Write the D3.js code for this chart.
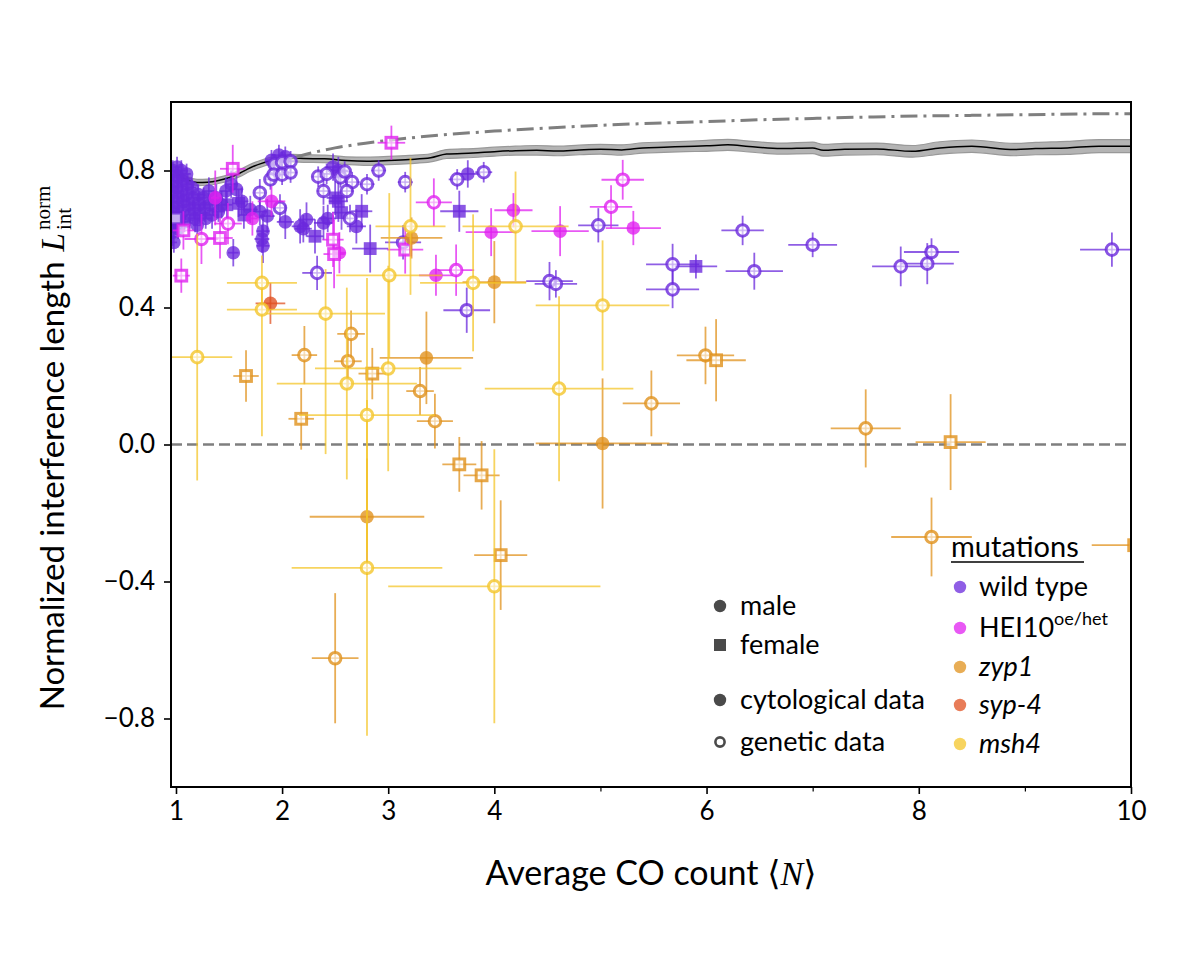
<!DOCTYPE html>
<html><head><meta charset="utf-8">
<script src="https://cdn.jsdelivr.net/npm/d3@7"></script>
<style>body{margin:0;background:#fff} svg{display:block}</style>
</head><body><svg id="c" width="1200" height="960"></svg>
<script>
// ---------- DATA ----------
// each point: [x, y, xerr, yerr]  (yerr may be [low, high])
const xTicksMajor = [1, 2, 3, 4, 6, 8, 10];
const xTicksMinor = [5, 7, 9];
const yTicks = [-0.8, -0.4, 0.0, 0.4, 0.8];

const wtCytoMale = [
[0.97,0.80,0.03,0.03],[0.98,0.77,0.03,0.03],[0.97,0.74,0.03,0.04],[0.98,0.71,0.03,0.03],[0.97,0.68,0.03,0.04],[0.98,0.65,0.03,0.03],[0.97,0.62,0.03,0.04],[0.98,0.59,0.03,0.03],
[1.01,0.81,0.03,0.03],[1.02,0.78,0.04,0.03],[1.01,0.75,0.03,0.03],[1.02,0.72,0.04,0.04],[1.01,0.69,0.03,0.03],[1.03,0.66,0.04,0.04],[1.02,0.63,0.03,0.03],
[1.05,0.80,0.04,0.03],[1.06,0.77,0.04,0.03],[1.05,0.74,0.03,0.04],[1.07,0.71,0.04,0.03],[1.06,0.68,0.04,0.04],[1.08,0.65,0.04,0.03],
[1.10,0.79,0.04,0.03],[1.11,0.76,0.04,0.03],[1.10,0.73,0.04,0.04],[1.12,0.70,0.05,0.03],[1.13,0.67,0.04,0.04],
[1.15,0.75,0.04,0.03],[1.16,0.72,0.05,0.04],[1.17,0.69,0.04,0.03],[1.18,0.66,0.05,0.04],
[1.21,0.73,0.05,0.03],[1.22,0.70,0.05,0.04],[1.23,0.67,0.05,0.03],[1.20,0.64,0.04,0.04],
[1.26,0.72,0.05,0.03],[1.27,0.69,0.05,0.04],[1.28,0.66,0.05,0.03],
[1.31,0.74,0.05,0.04],[1.32,0.70,0.05,0.03],[1.34,0.67,0.05,0.04],
[1.38,0.72,0.06,0.04],[1.40,0.68,0.06,0.03],[1.43,0.70,0.06,0.04],
[1.47,0.74,0.06,0.04],[1.52,0.76,0.06,0.04],[1.57,0.745,0.06,0.04],[1.62,0.71,0.06,0.04],[1.54,0.56,0.05,0.04],
[1.70,0.686,0.07,0.04],[1.79,0.68,0.07,0.04],[1.86,0.667,0.07,0.05],[1.82,0.623,0.06,0.05],[1.81,0.60,0.07,0.04],[1.82,0.58,0.06,0.05],
[1.90,0.83,0.06,0.03],[1.97,0.845,0.07,0.03],[2.03,0.84,0.07,0.03],
[2.03,0.65,0.08,0.05],[2.17,0.637,0.08,0.05],[2.23,0.657,0.08,0.05],[2.20,0.63,0.08,0.04],[2.39,0.647,0.09,0.05],[2.43,0.66,0.08,0.04],
[2.48,0.81,0.08,0.04],[2.53,0.80,0.09,0.04],[2.70,0.637,0.09,0.05],[3.75,0.79,0.12,0.04]
];
const wtCytoFemale = [
[1.48,0.70,0.05,0.04],[1.59,0.704,0.06,0.04],[1.64,0.67,0.05,0.04],[2.31,0.608,0.08,0.05],[2.50,0.72,0.08,0.05],
[2.53,0.71,0.09,0.06],[2.56,0.677,0.09,0.05],[2.75,0.681,0.10,0.05],[2.83,0.572,0.17,0.07],[3.67,0.681,0.18,0.06],[5.90,0.52,0.20,0.035]
];
const wtGenMale = [
[1.79,0.735,0.05,0.04],[1.89,0.774,0.05,0.03],[1.93,0.818,0.05,0.03],[2.00,0.824,0.05,0.03],[2.08,0.827,0.06,0.03],
[1.92,0.788,0.05,0.03],[2.00,0.788,0.05,0.03],[2.08,0.794,0.06,0.03],[1.98,0.691,0.06,0.04],[2.34,0.782,0.06,0.03],
[2.42,0.790,0.06,0.03],[2.39,0.740,0.06,0.04],[2.55,0.780,0.06,0.03],[2.59,0.797,0.06,0.03],[2.66,0.766,0.07,0.03],
[2.61,0.740,0.06,0.03],[2.80,0.760,0.07,0.03],[2.64,0.660,0.07,0.04],[2.91,0.800,0.07,0.03],[3.16,0.766,0.07,0.03],
[3.65,0.774,0.08,0.03],[3.90,0.795,0.08,0.03],[2.33,0.501,0.14,0.05],[3.14,0.590,0.17,0.05],[3.74,0.392,0.22,0.066],
[4.52,0.477,0.22,0.056],[4.58,0.469,0.20,0.04],[4.98,0.640,0.19,0.05],[5.68,0.526,0.25,0.06],[5.68,0.453,0.25,0.055],
[6.34,0.625,0.20,0.043],[6.45,0.506,0.27,0.054],[7.00,0.583,0.23,0.036],[7.83,0.520,0.27,0.058],[8.08,0.528,0.25,0.06],
[8.12,0.562,0.26,0.04],[9.82,0.569,0.30,0.05]
];
const wtGenFemale = [[1.00,0.66,0.03,0.03]];

const hei10CytoMale = [
[1.37,0.72,0.04,0.08],[1.72,0.66,0.05,0.05],[1.90,0.71,0.13,0.044],[2.54,0.56,0.06,0.06],[3.45,0.494,0.16,0.06],
[3.97,0.62,0.24,0.07],[4.18,0.684,0.18,0.05],[4.62,0.623,0.27,0.073],[5.31,0.632,0.26,0.05]
];
const hei10GenMale = [
[1.24,0.60,0.16,0.073],[1.49,0.645,0.13,0.06],[3.43,0.707,0.17,0.07],[3.64,0.509,0.17,0.075],[5.10,0.694,0.20,0.063],[5.21,0.773,0.20,0.058]
];
const hei10GenFemale = [
[1.05,0.493,0.08,0.05],[1.07,0.625,0.10,0.056],[1.415,0.603,0.12,0.06],[1.535,0.805,0.12,0.07],
[2.48,0.598,0.10,0.08],[2.49,0.556,0.10,0.10],[3.03,0.881,0.13,0.05],[3.16,0.569,0.17,0.07]
];

const zyp1CytoMale = [
[2.80,-0.211,0.54,0.17],[3.22,0.603,0.29,0.06],[3.36,0.253,0.44,0.135],[4.00,0.474,0.30,0.12],[5.02,0.003,0.63,0.19]
];
const zyp1GenMale = [
[2.21,0.261,0.12,0.085],[2.50,-0.624,0.22,0.19],[2.62,0.243,0.13,0.08],[2.65,0.323,0.13,0.068],[3.30,0.156,0.13,0.07],
[3.44,0.068,0.17,0.08],[5.48,0.120,0.27,0.096],[5.99,0.260,0.27,0.084],[7.50,0.047,0.33,0.114],[8.12,-0.270,0.38,0.115]
];
const zyp1GenFemale = [
[1.66,0.200,0.12,0.075],[2.18,0.075,0.12,0.09],[2.85,0.207,0.13,0.075],[3.67,-0.058,0.16,0.08],[3.88,-0.090,0.17,0.10],
[4.06,-0.323,0.25,0.16],[6.09,0.246,0.28,0.12],[8.30,0.007,0.33,0.14],[10.03,-0.294,0.40,0.05]
];

const syp4CytoMale = [[1.89,0.412,0.14,0.06]];

const msh4GenMale = [
[1.20,0.255,0.33,0.36],[1.81,0.472,0.33,0.08],[1.81,0.394,0.33,[0.37,0.09]],[2.41,0.382,0.56,[0.41,0.13]],
[2.61,0.178,0.66,0.28],[2.80,0.086,0.64,0.40],[2.80,-0.360,0.71,0.49],[3.00,0.222,0.69,0.30],[3.01,0.494,0.50,0.24],
[3.21,0.637,0.33,0.20],[3.80,0.472,0.50,0.20],[4.00,-0.414,1.00,0.40],[4.20,0.637,0.50,0.16],[4.61,0.163,0.70,0.27],[5.02,0.406,0.63,0.19]
];

// model curves
const modelX = [1.0,1.05,1.1,1.15,1.2,1.3,1.4,1.5,1.6,1.7,1.8,1.9,2.0,2.1,2.2,2.4,2.6,2.8,3.0,3.2,3.4,3.55,3.8,4.0,4.2,4.4,4.6,4.8,5.0,5.2,5.4,5.6,5.8,6.0,6.2,6.4,6.7,7.0,7.1,7.3,7.6,7.94,8.2,8.5,8.9,9.1,9.4,9.7,10.0];
const modelY = [0.794,0.782,0.773,0.768,0.765,0.766,0.771,0.779,0.792,0.808,0.820,0.829,0.834,0.836,0.835,0.834,0.829,0.827,0.829,0.832,0.837,0.848,0.851,0.855,0.858,0.859,0.857,0.860,0.862,0.860,0.866,0.868,0.870,0.872,0.875,0.870,0.864,0.866,0.859,0.862,0.863,0.856,0.866,0.871,0.861,0.864,0.866,0.871,0.871];
const modelBand = [0.009,0.009,0.009,0.009,0.009,0.009,0.009,0.009,0.010,0.010,0.010,0.010,0.010,0.011,0.011,0.011,0.011,0.012,0.012,0.012,0.012,0.013,0.013,0.013,0.013,0.014,0.014,0.014,0.014,0.015,0.015,0.015,0.015,0.016,0.016,0.016,0.016,0.017,0.017,0.017,0.017,0.017,0.018,0.018,0.018,0.018,0.019,0.019,0.019];
const limitX = [2.12,2.3,2.5,2.7,3.0,3.3,3.6,4.0,4.5,5.0,5.5,6.0,6.5,7.0,7.5,8.0,8.5,9.0,9.5,10.0];
const limitY = [0.838,0.853,0.866,0.876,0.888,0.898,0.906,0.915,0.924,0.932,0.938,0.943,0.948,0.952,0.956,0.959,0.961,0.963,0.965,0.966];

const mutationNames = ["wild type","HEI10","zyp1","syp-4","msh4"];
const mutationColors = ["#6a28dc","#e020f0","#e0911c","#e05020","#f4c62a"];

// ---------- DRAW ----------
const M = {l:171, r:1131, t:102, b:787};
const svg = d3.select('#c');
const sans = 'Lato, "DejaVu Sans", sans-serif';
const serif = '"Liberation Serif","DejaVu Serif",serif';

const x = d3.scaleLinear().domain([0.953, 10.0]).range([M.l, M.r]);
const y = d3.scaleLinear().domain([-1, 1]).range([M.b, M.t]);

svg.append('defs').append('clipPath').attr('id','clip')
  .append('rect').attr('x',M.l).attr('y',M.t).attr('width',M.r-M.l).attr('height',M.b-M.t);

const plot = svg.append('g').attr('clip-path','url(#clip)');

// zero line
plot.append('line').attr('x1',M.l).attr('x2',M.r).attr('y1',y(0)).attr('y2',y(0))
  .attr('stroke','#7f7f7f').attr('stroke-width',2.5).attr('stroke-dasharray','11,5');

// band and model line
const idx = d3.range(modelX.length);
plot.append('path').datum(idx)
  .attr('d', d3.area().x(i=>x(modelX[i])).y0(i=>y(modelY[i]-modelBand[i])).y1(i=>y(modelY[i]+modelBand[i])).curve(d3.curveMonotoneX))
  .attr('fill','#b4b4b4').attr('stroke','#999').attr('stroke-width',1.2);
plot.append('path').datum(idx)
  .attr('d', d3.line().x(i=>x(modelX[i])).y(i=>y(modelY[i])).curve(d3.curveMonotoneX))
  .attr('fill','none').attr('stroke','#000').attr('stroke-width',1.5);
plot.append('path').datum(d3.range(limitX.length))
  .attr('d', d3.line().x(i=>x(limitX[i])).y(i=>y(limitY[i])).curve(d3.curveMonotoneX))
  .attr('fill','none').attr('stroke','#7f7f7f').attr('stroke-width',3).attr('stroke-dasharray','17,6,3,6');

function errs(d){ return Array.isArray(d[3]) ? d[3] : [d[3], d[3]]; }

function drawGroup(data, color, shape, open){
  const g = plot.append('g');
  g.selectAll('line.h').data(data).join('line')
    .attr('x1',d=>x(d[0]-d[2])).attr('x2',d=>x(d[0]+d[2]))
    .attr('y1',d=>y(d[1])).attr('y2',d=>y(d[1]))
    .attr('stroke',color).attr('stroke-width',1.8).attr('stroke-opacity',0.75);
  g.selectAll('line.v').data(data).join('line')
    .attr('x1',d=>x(d[0])).attr('x2',d=>x(d[0]))
    .attr('y1',d=>y(d[1]-errs(d)[0])).attr('y2',d=>y(d[1]+errs(d)[1]))
    .attr('stroke',color).attr('stroke-width',1.8).attr('stroke-opacity',0.75);
  let m;
  if (shape === 'circle') {
    m = g.selectAll('circle').data(data).join('circle')
      .attr('cx',d=>x(d[0])).attr('cy',d=>y(d[1])).attr('r', open ? 5.8 : 6.8);
  } else {
    const s = open ? 10.8 : 12.8;
    m = g.selectAll('rect').data(data).join('rect')
      .attr('x',d=>x(d[0])-s/2).attr('y',d=>y(d[1])-s/2).attr('width',s).attr('height',s);
  }
  if (open) {
    m.attr('fill','#fff').attr('fill-opacity',0.6).attr('stroke',color).attr('stroke-width',3).attr('stroke-opacity',0.8);
  } else {
    m.attr('fill',color).attr('fill-opacity',0.78);
  }
}

const C = mutationColors;
drawGroup(wtCytoMale, C[0], 'circle', false);
drawGroup(wtCytoFemale, C[0], 'square', false);
drawGroup(wtGenMale, C[0], 'circle', true);
drawGroup(wtGenFemale, C[0], 'square', true);
drawGroup(hei10CytoMale, C[1], 'circle', false);
drawGroup(hei10GenMale, C[1], 'circle', true);
drawGroup(hei10GenFemale, C[1], 'square', true);
drawGroup(zyp1CytoMale, C[2], 'circle', false);
drawGroup(zyp1GenMale, C[2], 'circle', true);
drawGroup(zyp1GenFemale, C[2], 'square', true);
drawGroup(syp4CytoMale, C[3], 'circle', false);
drawGroup(msh4GenMale, C[4], 'circle', true);

// axes
const xa = svg.append('g').attr('transform',`translate(0,${M.b})`)
  .call(d3.axisBottom(x).tickValues(xTicksMajor).tickSize(7).tickPadding(8).tickFormat(d3.format('d')));
const xm = svg.append('g').attr('transform',`translate(0,${M.b})`)
  .call(d3.axisBottom(x).tickValues(xTicksMinor).tickSize(4.5).tickFormat(''));
const ya = svg.append('g').attr('transform',`translate(${M.l},0)`)
  .call(d3.axisLeft(y).tickValues(yTicks).tickSize(7).tickPadding(9).tickFormat(d3.format('.1f')));
[xa,xm,ya].forEach(a=>{
  a.select('.domain').remove();
  a.selectAll('line').attr('stroke','#000').attr('stroke-width',1.6);
  a.selectAll('text').attr('font-family',sans).attr('font-size',26).attr('fill','#000');
});
xm.selectAll('line').attr('stroke-width',1.2);

svg.append('rect').attr('x',M.l).attr('y',M.t).attr('width',M.r-M.l).attr('height',M.b-M.t)
  .attr('fill','none').attr('stroke','#000').attr('stroke-width',2);

// x label
const xl = svg.append('text').attr('x',651).attr('y',885).attr('text-anchor','middle')
  .attr('font-family',sans).attr('font-size',34).attr('fill','#000');
xl.append('tspan').text('Average CO count ');
xl.append('tspan').attr('font-family',serif).text('\u27E8');
xl.append('tspan').attr('font-family',serif).attr('font-style','italic').text('N');
xl.append('tspan').attr('font-family',serif).text('\u27E9');

// y label
const yg = svg.append('g').attr('transform',`translate(64,448) rotate(-90)`);
const yt = yg.append('text').attr('font-family',sans).attr('font-size',33).attr('fill','#000').text('Normalized interference length');
const yL = yg.append('text').attr('font-family',serif).attr('font-style','italic').attr('font-size',33).attr('fill','#000').text('L');
const ySup = yg.append('text').attr('font-family',serif).attr('font-size',21).attr('fill','#000').text('norm');
const ySub = yg.append('text').attr('font-family',serif).attr('font-size',21).attr('fill','#000').text('int');
const gap = 10;
const w1 = yt.node().getComputedTextLength();
const w2 = yL.node().getComputedTextLength();
const w3 = Math.max(ySup.node().getComputedTextLength(), ySub.node().getComputedTextLength());
const tot = w1 + gap + w2 + 3 + w3;
const x0 = -tot/2;
yt.attr('x',x0).attr('y',0);
yL.attr('x',x0+w1+gap).attr('y',0);
ySup.attr('x',x0+w1+gap+w2+3).attr('y',-14);
ySub.attr('x',x0+w1+gap+w2+3).attr('y',7);

// legend column 1
const lg = svg.append('g').attr('font-family',sans).attr('font-size',27).attr('fill','#000');
const gray = '#4a4a4a';
const leg1 = [
  {label:'male', shape:'circle', open:false, y:606},
  {label:'female', shape:'square', open:false, y:645},
  {label:'cytological data', shape:'circle', open:false, y:700},
  {label:'genetic data', shape:'circle', open:true, y:742}
];
leg1.forEach(d=>{
  if (d.shape==='circle') {
    const c = lg.append('circle').attr('cx',720).attr('cy',d.y).attr('r',d.open?4.6:6.2);
    if (d.open) c.attr('fill','#fff').attr('stroke',gray).attr('stroke-width',2.6); else c.attr('fill',gray);
  } else {
    lg.append('rect').attr('x',714).attr('y',d.y-6).attr('width',12).attr('height',12).attr('fill',gray);
  }
  lg.append('text').attr('x',740).attr('y',d.y+9).text(d.label);
});

// legend column 2
lg.append('text').attr('x',951).attr('y',557).attr('font-size',29).text('mutations');
lg.append('line').attr('x1',951).attr('x2',1084).attr('y1',562).attr('y2',562).attr('stroke','#000').attr('stroke-width',1.3);
const leg2y = [587, 628, 667, 705, 744];
mutationNames.forEach((n,i)=>{
  lg.append('circle').attr('cx',960).attr('cy',leg2y[i]).attr('r',6.2).attr('fill',C[i]).attr('fill-opacity',0.75);
  const t = lg.append('text').attr('x',979).attr('y',leg2y[i]+9);
  if (i===1) {
    t.append('tspan').text('HEI10');
    t.append('tspan').attr('font-size',18).attr('dy',-12).text('oe/het');
  } else if (i===0) {
    t.text(n);
  } else {
    t.attr('font-style','italic').text(n);
  }
});
</script></body></html>
